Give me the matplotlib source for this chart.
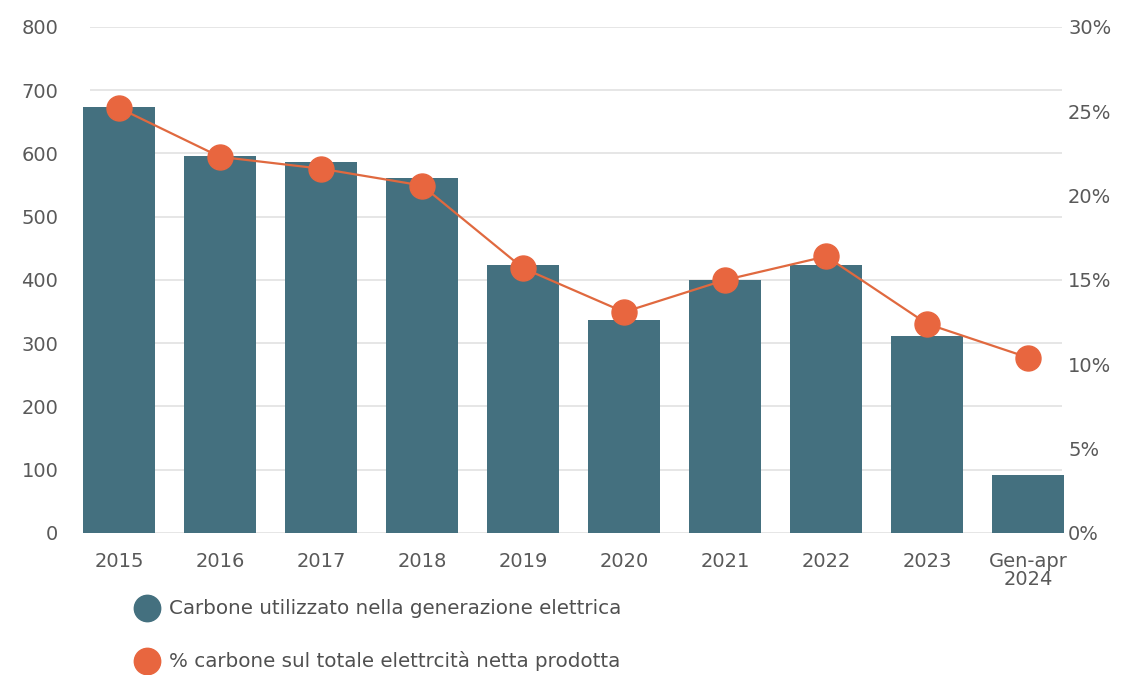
import matplotlib.pyplot as plt
import numpy as np

anni = ['2015', '2016', '2017', '2018', '2019', '2020', '2021', '2022', '2023', 'Gen-apr\n2024']
carbone = [673, 596, 586, 561, 424, 337, 400, 424, 311, 92]
quota_pct = [25.2, 22.3, 21.6, 20.6, 15.7, 13.1, 15.0, 16.4, 12.4, 10.4]

left_ticks = [0, 100, 200, 300, 400, 500, 600, 700, 800]
right_ticks = [0, 5, 10, 15, 20, 25, 30]

blu = '#44707f'
arancio = '#e8663f'
testo = '#595959'

plt.rcParams['font.family'] = ['DejaVu Sans']

fig = plt.figure(figsize=(11.23, 6.75), dpi=100)
ax = fig.add_axes([0.0655, 0.2104, 0.8905, 0.7496])
x = np.arange(len(anni))

# griglia orizzontale leggera, dietro alle barre
ax.hlines(left_ticks, -0.29, 9.34, color='#e2e2e2', lw=1.2, zorder=0)
ax.bar(x, carbone, width=0.72, color=blu, zorder=2)

ax.set_xlim(-0.45, 9.45)
ax.set_ylim(0, 800)
ax.set_yticks(left_ticks)
ax.set_xticks(x)
ax.set_xticklabels(anni, linespacing=0.92)
ax.tick_params(axis='y', length=0, pad=11, labelsize=14, labelcolor=testo)
ax.tick_params(axis='x', length=0, pad=14, labelsize=14, labelcolor=testo)
for s in ax.spines.values():
    s.set_visible(False)

ax2 = ax.twinx()
ax2.plot(x, quota_pct, color='#e0693f', lw=1.6, marker='o', ms=18,
         mfc=arancio, mec=arancio, zorder=3)
ax2.set_ylim(0, 30)
ax2.set_yticks(right_ticks)
ax2.set_yticklabels([f'{t}%' for t in right_ticks])
ax2.tick_params(axis='y', length=0, pad=-4, labelsize=14, labelcolor=testo)
for s in ax2.spines.values():
    s.set_visible(False)

# legenda in basso
for yy, col, lab in [(608, blu, 'Carbone utilizzato nella generazione elettrica'),
                     (661, arancio, '% carbone sul totale elettrcità netta prodotta')]:
    fig.lines.append(plt.Line2D([147 / 1123], [1 - yy / 675], marker='o', ms=19,
                                color=col, transform=fig.transFigure))
    fig.text(169 / 1123, 1 - yy / 675, lab, color='#505050', fontsize=14.3,
             va='center')

fig.savefig('out.png', dpi=100, facecolor='white')
